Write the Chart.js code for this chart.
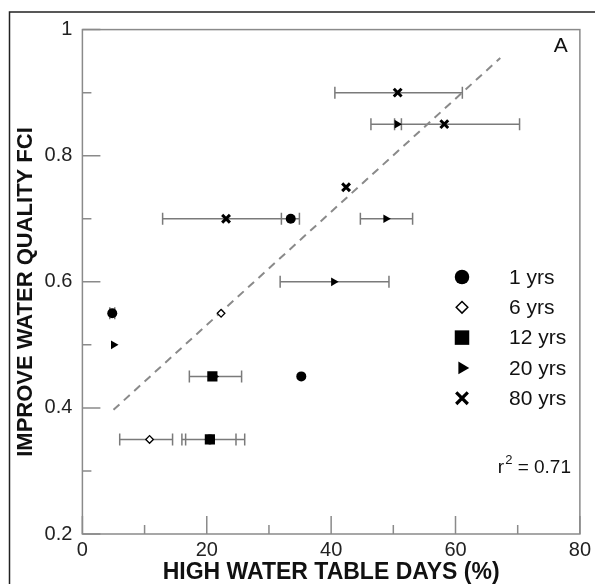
<!DOCTYPE html>
<html>
<head>
<meta charset="utf-8">
<script src="https://cdn.jsdelivr.net/npm/chart.js@4"></script>
<style>
  body { margin: 0; background: #fff; }
  #wrap { width: 595px; height: 584px; }
</style>
</head>
<body>
<div id="wrap"><canvas id="chart" width="595" height="584"></canvas></div>
<script>
'use strict';

/* DATA: x = high water table days (%), y = FCI */
const xTicks = [0, 20, 40, 60, 80];
const xMinor = [10, 30, 50, 70];
const yTicks = [0.2, 0.4, 0.6, 0.8, 1];
const yMinor = [0.3, 0.5, 0.7, 0.9];

const seriesNames = ['1 yrs', '6 yrs', '12 yrs', '20 yrs', '80 yrs'];

// 1 yrs (filled circle)
const yr1X = [33.5, 4.8, 35.2, 20.5];
const yr1Y = [0.70, 0.55, 0.45, 0.35];
const yr1Lo = [32.0, 4.4, null, 16.0];
const yr1Hi = [34.9, 5.2, null, 26.1];

// 6 yrs (open diamond)
const yr6X = [22.3, 10.8];
const yr6Y = [0.55, 0.35];
const yr6Lo = [null, 6.0];
const yr6Hi = [null, 14.5];

// 12 yrs (square)
const yr12X = [20.9, 20.5];
const yr12Y = [0.45, 0.35];
const yr12Lo = [17.2, 16.6];
const yr12Hi = [25.6, 24.7];

// 20 yrs (right triangle)
const yr20X = [50.6, 48.8, 40.4, 5.0, 21.2];
const yr20Y = [0.85, 0.70, 0.60, 0.50, 0.45];
const yr20Lo = [50.2, 44.7, 31.8, null, null];
const yr20Hi = [51.3, 53.1, 49.3, null, null];

// 80 yrs (x)
const yr80X = [50.7, 58.2, 42.4, 23.1];
const yr80Y = [0.90, 0.85, 0.75, 0.70];
const yr80Lo = [40.6, 46.4, null, 12.9];
const yr80Hi = [61.1, 70.3, null, 32.0];

// regression line ends
const fitX = [5.0, 67.2];
const fitY = [0.397, 0.955];
const rSquared = '0.71';
const panelLetter = 'A';
const yTitle = 'IMPROVE WATER QUALITY FCI';
const xTitle = 'HIGH WATER TABLE DAYS (%)';

function pts(xs, ys, lo, hi) {
  return xs.map((x, i) => ({ x: x, y: ys[i], lo: lo ? lo[i] : null, hi: hi ? hi[i] : null }));
}

const AXIS_GREY = '#8a8a8a';
const FONT = "'Liberation Sans', Arial, sans-serif";

/* PLUGINS */
const frame = {
  id: 'frame',
  beforeDraw(chart) {
    const ctx = chart.ctx;
    ctx.save();
    ctx.strokeStyle = '#222';
    ctx.lineWidth = 1.5;
    ctx.beginPath();
    ctx.moveTo(9.5, 584);
    ctx.lineTo(9.5, 12);
    ctx.lineTo(595, 12);
    ctx.stroke();
    ctx.restore();
  },
  afterDraw(chart) {
    const { ctx, chartArea: a, scales } = chart;
    ctx.save();
    ctx.strokeStyle = AXIS_GREY;
    ctx.lineWidth = 1.5;
    ctx.strokeRect(a.left, a.top, a.right - a.left, a.bottom - a.top);
    ctx.beginPath();
    xTicks.concat(xMinor).forEach(v => {
      const px = scales.x.getPixelForValue(v);
      const len = xTicks.includes(v) ? 18 : 9;
      ctx.moveTo(px, a.bottom);
      ctx.lineTo(px, a.bottom - len);
    });
    yTicks.concat(yMinor).forEach(v => {
      const py = scales.y.getPixelForValue(v);
      const len = yTicks.includes(v) ? 18 : 9;
      ctx.moveTo(a.left, py);
      ctx.lineTo(a.left + len, py);
    });
    ctx.stroke();

    // y axis title, rotated
    ctx.fillStyle = '#111';
    ctx.save();
    ctx.translate(26, 292);
    ctx.rotate(-Math.PI / 2);
    ctx.font = 'bold 22px ' + FONT;
    ctx.textAlign = 'center';
    ctx.textBaseline = 'middle';
    ctx.fillText(yTitle, 0, 0);
    ctx.restore();

    // panel letter and r2
    ctx.font = '21px ' + FONT;
    ctx.textAlign = 'right';
    ctx.textBaseline = 'middle';
    ctx.fillText(panelLetter, a.right - 12, 46);

    ctx.textAlign = 'left';
    const ry = 468;
    ctx.font = '19px ' + FONT;
    const wr = ctx.measureText('r').width;
    const wt = ctx.measureText(' = ' + rSquared).width;
    ctx.font = '13px ' + FONT;
    const w2 = ctx.measureText('2').width;
    const rx = 571 - (wr + w2 + 1 + wt);
    ctx.font = '19px ' + FONT;
    ctx.fillText('r', rx, ry);
    ctx.fillText(' = ' + rSquared, rx + wr + w2 + 1, ry);
    ctx.font = '13px ' + FONT;
    ctx.fillText('2', rx + wr + 1, ry - 8);

    // legend
    const lx = 462, ly0 = 277, step = 30.3;
    chart.data.datasets.forEach(ds => {
      if (!ds.legendShape) return;
      const y = ly0 + step * ds.legendIndex;
      drawShape(ctx, ds.legendShape, lx, y, 1.45);
      ctx.fillStyle = '#111';
      ctx.font = '21px ' + FONT;
      ctx.textAlign = 'left';
      ctx.textBaseline = 'middle';
      ctx.fillText(ds.label, 509, y + 1);
    });
    ctx.restore();
  }
};

function drawShape(ctx, shape, x, y, k) {
  ctx.save();
  ctx.fillStyle = '#000';
  ctx.strokeStyle = '#000';
  ctx.beginPath();
  if (shape === 'circle') {
    ctx.arc(x, y, 5 * k, 0, Math.PI * 2);
    ctx.fill();
  } else if (shape === 'diamond') {
    const r = 4 * k;
    ctx.moveTo(x - r, y); ctx.lineTo(x, y - r); ctx.lineTo(x + r, y); ctx.lineTo(x, y + r);
    ctx.closePath();
    ctx.fillStyle = '#fff';
    ctx.fill();
    ctx.lineWidth = 1.5;
    ctx.stroke();
  } else if (shape === 'square') {
    const h = 5 * k;
    ctx.rect(x - h, y - h, 2 * h, 2 * h);
    ctx.fill();
  } else if (shape === 'triangle') {
    const r = 5 * k;
    ctx.moveTo(x + r, y);
    ctx.lineTo(x - r * 0.5, y - r * 0.87);
    ctx.lineTo(x - r * 0.5, y + r * 0.87);
    ctx.closePath();
    ctx.fill();
  } else if (shape === 'cross') {
    const r = 4 * k;
    ctx.lineWidth = 3.2;
    ctx.moveTo(x - r, y - r); ctx.lineTo(x + r, y + r);
    ctx.moveTo(x + r, y - r); ctx.lineTo(x - r, y + r);
    ctx.stroke();
  }
  ctx.restore();
}

const errorBars = {
  id: 'errorBars',
  beforeDatasetsDraw(chart) {
    const { ctx, scales } = chart;
    ctx.save();
    ctx.strokeStyle = '#7a7a7a';
    ctx.lineWidth = 1.5;
    ctx.beginPath();
    chart.data.datasets.forEach(ds => {
      ds.data.forEach(p => {
        if (p.lo == null || p.hi == null) return;
        const y = scales.y.getPixelForValue(p.y);
        const x1 = scales.x.getPixelForValue(p.lo);
        const x2 = scales.x.getPixelForValue(p.hi);
        ctx.moveTo(x1, y); ctx.lineTo(x2, y);
        ctx.moveTo(x1, y - 6); ctx.lineTo(x1, y + 6);
        ctx.moveTo(x2, y - 6); ctx.lineTo(x2, y + 6);
      });
    });
    ctx.stroke();
    ctx.restore();
  }
};

/* CHART */
const ctx = document.getElementById('chart').getContext('2d');
new Chart(ctx, {
  type: 'scatter',
  data: {
    datasets: [
      {
        label: 'fit', type: 'line', data: pts(fitX, fitY),
        borderColor: '#8a8a8a', borderWidth: 2, borderDash: [8, 6],
        pointRadius: 0, fill: false, order: 10
      },
      {
        label: seriesNames[0], data: pts(yr1X, yr1Y, yr1Lo, yr1Hi),
        pointStyle: 'circle', pointRadius: 5, backgroundColor: '#000', borderColor: '#000', borderWidth: 0,
        legendShape: 'circle', legendIndex: 0, order: 6
      },
      {
        label: seriesNames[1], data: pts(yr6X, yr6Y, yr6Lo, yr6Hi),
        pointStyle: 'rectRot', pointRadius: 3.8, backgroundColor: '#fff', borderColor: '#000', borderWidth: 1.3,
        legendShape: 'diamond', legendIndex: 1, order: 2
      },
      {
        label: seriesNames[2], data: pts(yr12X, yr12Y, yr12Lo, yr12Hi),
        pointStyle: 'rect', pointRadius: 7.2, backgroundColor: '#000', borderColor: '#000', borderWidth: 0,
        legendShape: 'square', legendIndex: 2, order: 3
      },
      {
        label: seriesNames[3], data: pts(yr20X, yr20Y, yr20Lo, yr20Hi),
        pointStyle: 'triangle', rotation: 90, pointRadius: 5, backgroundColor: '#000', borderColor: '#000', borderWidth: 0,
        legendShape: 'triangle', legendIndex: 3, order: 4
      },
      {
        label: seriesNames[4], data: pts(yr80X, yr80Y, yr80Lo, yr80Hi),
        pointStyle: 'crossRot', pointRadius: 5.5, backgroundColor: '#000', borderColor: '#000', borderWidth: 3,
        legendShape: 'cross', legendIndex: 4, order: 1
      }
    ]
  },
  options: {
    responsive: false,
    animation: false,
    layout: { padding: { top: 29.6, right: 12.5, bottom: 0, left: 0 } },
    plugins: { legend: { display: false }, tooltip: { enabled: false } },
    scales: {
      x: {
        type: 'linear', min: 0, max: 80,
        afterBuildTicks: s => { s.ticks = xTicks.map(v => ({ value: v })); },
        afterFit: s => { s.height = 50; },
        grid: { display: false, drawTicks: false },
        border: { display: false },
        ticks: { color: '#222', font: { family: FONT, size: 20 }, padding: 4, maxRotation: 0 },
        title: {
          display: true, text: xTitle, color: '#111',
          font: { family: FONT, size: 23, weight: 'bold', lineHeight: 1 }, padding: 0
        }
      },
      y: {
        type: 'linear', min: 0.2, max: 1,
        afterBuildTicks: s => { s.ticks = yTicks.map(v => ({ value: v })); },
        afterFit: s => { s.width = 82.4; },
        grid: { display: false, drawTicks: false },
        border: { display: false },
        ticks: {
          color: '#222', font: { family: FONT, size: 20 }, padding: 10,
          callback: v => String(Math.round(v * 10) / 10)
        },
        title: { display: false }
      }
    }
  },
  plugins: [frame, errorBars]
});
</script>
</body>
</html>
